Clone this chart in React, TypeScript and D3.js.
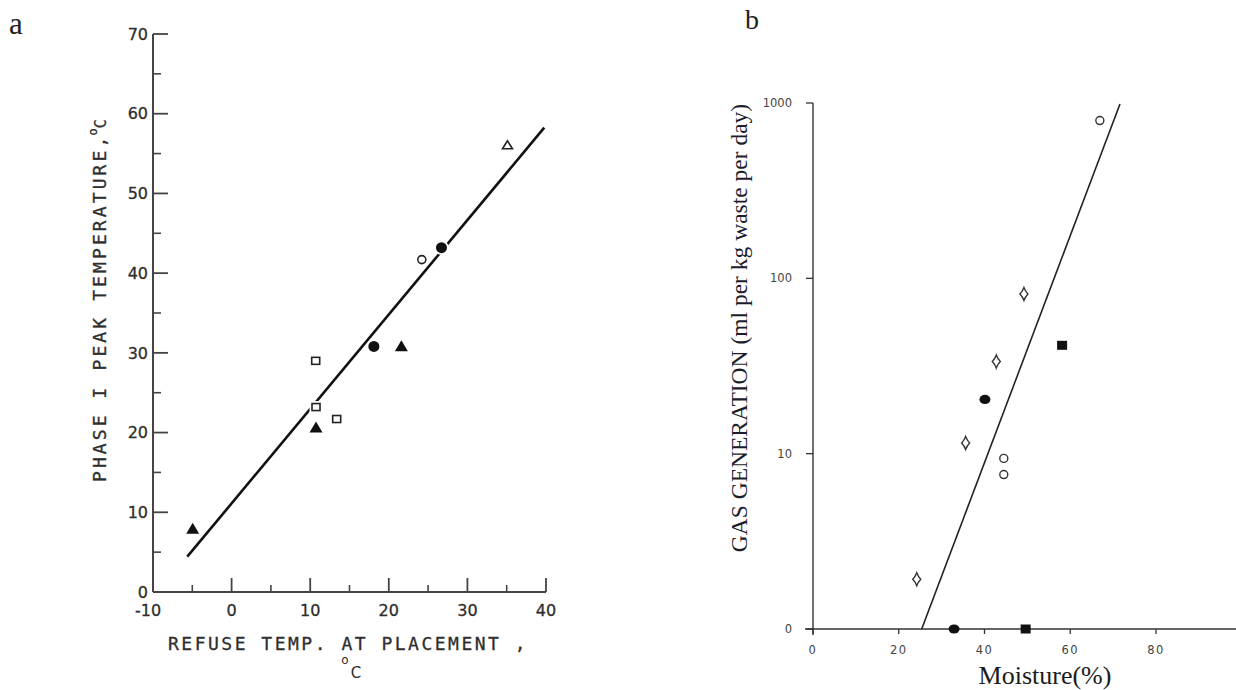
import React from "react";
import * as d3 from "d3";

// ---------- Panel a: phase I peak temperature vs refuse temperature ----------
const aFilledTriX = [-4.95, 10.74, 21.6];
const aFilledTriY = [8.0, 20.7, 30.9];
const aOpenSqX = [10.7, 10.74, 13.37];
const aOpenSqY = [29.0, 23.2, 21.7];
const aFilledCircX = [18.1, 26.7];
const aFilledCircY = [30.8, 43.2];
const aOpenCircX = [24.2];
const aOpenCircY = [41.7];
const aOpenTriX = [35.1];
const aOpenTriY = [56.1];
const aFitX = [-5.64, 39.78];
const aFitY = [4.43, 58.25];
const aXTicks = [-10, 0, 10, 20, 30, 40];
const aXMinor = [-5, 5, 15, 25, 35];
const aYTicks = [0, 10, 20, 30, 40, 50, 60, 70];
const aYMinor = [5, 15, 25, 35, 45, 55, 65];
const aXTickLabels = ["-10", "0", "10", "20", "30", "40"];
const aYTickLabels = ["0", "10", "20", "30", "40", "50", "60", "70"];

// ---------- Panel b: gas generation vs moisture ----------
const bDiamondX = [24.2, 35.6, 42.75, 49.2];
const bDiamondY = [1.92, 11.5, 33.5, 81.5];
const bOpenCircX = [44.5, 44.5, 66.9];
const bOpenCircY = [9.4, 7.6, 794];
const bFilledCircX = [40.1, 32.9];
const bFilledCircY = [20.4, 1];
const bFilledSqX = [58.1, 49.6];
const bFilledSqY = [41.5, 1];
const bFitX = [25.35, 71.6];
const bFitY = [1, 988];
const bXTicks = [0, 20, 40, 60, 80];
const bXTickLabels = ["0", "20", "40", "60", "80"];
const bYTicks = [1, 10, 100, 1000];
const bYTickLabels = ["0", "10", "100", "1000"];

const xA = d3.scaleLinear().domain([-10, 40]).range([153, 546]);
const yA = d3.scaleLinear().domain([0, 70]).range([592, 34]);
const xB = d3.scaleLinear().domain([0, 80]).range([813, 1156]);
const yB = d3.scaleLog().domain([1, 1000]).range([629, 103]);

const sansA = "'DejaVu Sans', sans-serif";
const monoA = "'DejaVu Sans Mono', monospace";
const sansB = "'DejaVu Sans', sans-serif";
const serif = "'Liberation Serif', 'Times New Roman', serif";

function triPath(cx: number, cy: number, w: number, h: number) {
  const p = d3.path();
  p.moveTo(cx, cy - h / 2);
  p.lineTo(cx + w / 2, cy + h / 2);
  p.lineTo(cx - w / 2, cy + h / 2);
  p.closePath();
  return p.toString();
}

function diamondPath(cx: number, cy: number, w: number, h: number) {
  const p = d3.path();
  p.moveTo(cx, cy - h / 2);
  p.quadraticCurveTo(cx + w * 0.18, cy - h * 0.2, cx + w / 2, cy);
  p.quadraticCurveTo(cx + w * 0.18, cy + h * 0.2, cx, cy + h / 2);
  p.quadraticCurveTo(cx - w * 0.18, cy + h * 0.2, cx - w / 2, cy);
  p.quadraticCurveTo(cx - w * 0.18, cy - h * 0.2, cx, cy - h / 2);
  p.closePath();
  return p.toString();
}

function PanelA() {
  const axisColor = "#444";
  const labelColor = "#2e2e2e";
  const fit = d3
    .line<number>()
    .x((_, i) => xA(aFitX[i]))
    .y((_, i) => yA(aFitY[i]));
  return (
    <g>
      <text x={9} y={34} fontFamily={serif} fontSize={31} fill="#222">
        a
      </text>
      {/* axes */}
      <line x1={xA(-10)} x2={xA(-10)} y1={yA(70)} y2={yA(0)} stroke={axisColor} strokeWidth={2} />
      <line x1={xA(-10)} x2={xA(40)} y1={yA(0)} y2={yA(0)} stroke={axisColor} strokeWidth={2} />
      {aYTicks.map((t, i) => (
        <g key={"ay" + t}>
          <line x1={xA(-10)} x2={xA(-10) + 15} y1={yA(t)} y2={yA(t)} stroke={axisColor} strokeWidth={1.8} />
          <text
            x={xA(-10) - 5}
            y={yA(t)}
            dy="0.36em"
            textAnchor="end"
            fontFamily={sansA}
            fontSize={16}
            stroke={labelColor}
            strokeWidth={0.3}
            fill={labelColor}
          >
            {aYTickLabels[i]}
          </text>
        </g>
      ))}
      {aYMinor.map((t) => (
        <line key={"aym" + t} x1={xA(-10)} x2={xA(-10) + 8} y1={yA(t)} y2={yA(t)} stroke={axisColor} strokeWidth={1.6} />
      ))}
      {aXTicks.map((t, i) => (
        <g key={"ax" + t}>
          {t > -10 && (
            <line x1={xA(t)} x2={xA(t)} y1={yA(0)} y2={yA(0) - 14} stroke={axisColor} strokeWidth={1.8} />
          )}
          <text
            x={xA(t) - (t < 0 ? 5 : 0)}
            y={616}
            textAnchor="middle"
            fontFamily={sansA}
            fontSize={16}
            stroke={labelColor}
            strokeWidth={0.3}
            fill={labelColor}
          >
            {aXTickLabels[i]}
          </text>
        </g>
      ))}
      {aXMinor.map((t) => (
        <line key={"axm" + t} x1={xA(t)} x2={xA(t)} y1={yA(0)} y2={yA(0) - 7} stroke={axisColor} strokeWidth={1.6} />
      ))}
      {/* axis titles */}
      <text
        transform="translate(106,482) rotate(-90)"
        fontFamily={monoA}
        fontSize={18}
        letterSpacing={3.1}
        stroke={labelColor}
        strokeWidth={0.3}
        fill={labelColor}
      >
        PHASE I PEAK TEMPERATURE,
        <tspan fontSize={12} dy={-9} dx={-2}>o</tspan>
        <tspan fontSize={15} dy={9} dx={-3}>C</tspan>
      </text>
      <text
        x={168}
        y={650}
        fontFamily={monoA}
        fontSize={18}
        letterSpacing={2.5}
        stroke={labelColor}
        strokeWidth={0.3}
        fill={labelColor}
      >
        REFUSE TEMP. AT PLACEMENT ,
      </text>
      <text x={345} y={664} textAnchor="middle" fontFamily={sansA} fontSize={12} fill={labelColor}>
        o
      </text>
      <text x={356} y={678} textAnchor="middle" fontFamily={sansA} fontSize={15} fill={labelColor}>
        C
      </text>
      {/* regression line */}
      <path d={fit(aFitX) || ""} fill="none" stroke="#111" strokeWidth={2.6} />
      {/* markers */}
      {aFilledTriX.map((x, i) => (
        <path key={"ft" + i} d={triPath(xA(x), yA(aFilledTriY[i]), 13, 11)} fill="#111" stroke="#fff" strokeWidth={2.5} paintOrder="stroke" />
      ))}
      {aOpenSqX.map((x, i) => (
        <g key={"os" + i}>
          <rect x={xA(x) - 4.5} y={yA(aOpenSqY[i]) - 4} width={9} height={8} fill="#fff" stroke="#fff" strokeWidth={4} />
          <rect x={xA(x) - 4} y={yA(aOpenSqY[i]) - 3.5} width={8} height={7} fill="#fff" stroke="#222" strokeWidth={1.6} />
        </g>
      ))}
      {aFilledCircX.map((x, i) => (
        <circle key={"fc" + i} cx={xA(x)} cy={yA(aFilledCircY[i])} r={5.5} fill="#111" stroke="#fff" strokeWidth={3.5} paintOrder="stroke" />
      ))}
      {aOpenCircX.map((x, i) => (
        <circle key={"oc" + i} cx={xA(x)} cy={yA(aOpenCircY[i])} r={4} fill="#fff" stroke="#222" strokeWidth={1.6} />
      ))}
      {aOpenTriX.map((x, i) => (
        <path key={"ot" + i} d={triPath(xA(x), yA(aOpenTriY[i]), 10, 8)} fill="#fff" stroke="#222" strokeWidth={1.6} />
      ))}
    </g>
  );
}

function PanelB() {
  const axisColor = "#333";
  const tickColor = "#444";
  const fit = d3
    .line<number>()
    .x((_, i) => xB(bFitX[i]))
    .y((_, i) => yB(bFitY[i]));
  return (
    <g>
      <text x={745} y={29} fontFamily={serif} fontSize={28} fill="#222">
        b
      </text>
      {/* axes */}
      <line x1={xB(0)} x2={xB(0)} y1={yB(1000)} y2={yB(1) + 6} stroke={axisColor} strokeWidth={1.4} />
      <line x1={xB(0) - 8} x2={1236} y1={yB(1)} y2={yB(1)} stroke={axisColor} strokeWidth={1.4} />
      {bYTicks.map((t, i) => (
        <g key={"by" + t}>
          <line x1={xB(0) - 7} x2={xB(0)} y1={yB(t)} y2={yB(t)} stroke={axisColor} strokeWidth={1.3} />
          <text
            x={792}
            y={yB(t)}
            dy="0.36em"
            textAnchor="end"
            fontFamily={sansB}
            fontSize={11.5}
            fill={tickColor}
          >
            {bYTickLabels[i]}
          </text>
        </g>
      ))}
      {bXTicks.map((t, i) => (
        <g key={"bx" + t}>
          <line x1={xB(t)} x2={xB(t)} y1={yB(1)} y2={yB(1) + 5} stroke={axisColor} strokeWidth={1.3} />
          <text
            x={xB(t)}
            y={654}
            textAnchor="middle"
            fontFamily={sansB}
            fontSize={11.5}
            letterSpacing={1.5}
            fill={tickColor}
          >
            {bXTickLabels[i]}
          </text>
        </g>
      ))}
      {/* axis titles */}
      <text
        transform="translate(747,328) rotate(-90)"
        textAnchor="middle"
        fontFamily={serif}
        fontSize={23.5}
        fill="#1c1c2c"
      >
        GAS GENERATION (ml per kg waste per day)
      </text>
      <text x={1045} y={684} textAnchor="middle" fontFamily={serif} fontSize={26} fill="#1c1c1c">
        Moisture(%)
      </text>
      {/* regression line */}
      <path d={fit(bFitX) || ""} fill="none" stroke="#222" strokeWidth={1.6} />
      {/* markers */}
      {bDiamondX.map((x, i) => (
        <path key={"bd" + i} d={diamondPath(xB(x), yB(bDiamondY[i]), 8, 13)} fill="#fff" stroke="#333" strokeWidth={1.4} />
      ))}
      {bOpenCircX.map((x, i) => (
        <circle key={"boc" + i} cx={xB(x)} cy={yB(bOpenCircY[i])} r={4} fill="#fff" stroke="#333" strokeWidth={1.4} />
      ))}
      {bFilledCircX.map((x, i) => (
        <ellipse key={"bfc" + i} cx={xB(x)} cy={yB(bFilledCircY[i])} rx={5.5} ry={4.6} fill="#111" />
      ))}
      {bFilledSqX.map((x, i) => (
        <rect key={"bfs" + i} x={xB(x) - 5} y={yB(bFilledSqY[i]) - 4.5} width={10} height={9} fill="#111" />
      ))}
    </g>
  );
}

export default function App() {
  return (
    <svg
      width={1236}
      height={690}
      viewBox="0 0 1236 690"
      style={{ position: "absolute", left: 0, top: 0, background: "#fff" }}
    >
      <rect width={1236} height={690} fill="#fff" />
      <PanelA />
      <PanelB />
    </svg>
  );
}
